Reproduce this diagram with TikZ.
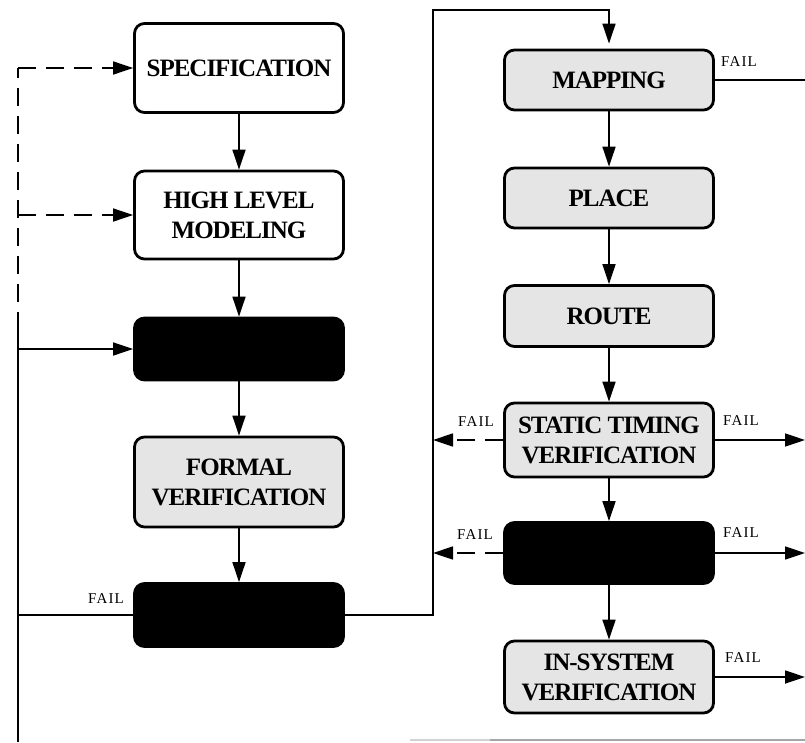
\documentclass[tikz,border=0pt]{standalone}
\usepackage{fontspec}
\setmainfont{Liberation Serif}
\newfontfamily\failfont[LetterSpace=8]{Liberation Serif}
\newfontfamily\stagefont[LetterSpace=-4]{Liberation Serif}
\usetikzlibrary{arrows.meta}

\tikzset{
  x=1pt, y=-1pt,
  stage/.style={draw=black, line width=2.8pt, rounded corners=10pt,
    minimum width=209pt, inner sep=2pt, align=center,
    font=\stagefont\bfseries\fontsize{25}{30}\selectfont},
  plainstage/.style={stage, fill=white},
  toolstage/.style={stage, fill=gray!20},
  hiddenstage/.style={stage, fill=black},
  flow/.style={line width=1.7pt, draw=black},
  flowarrow/.style={flow, -{Triangle[length=20pt, width=13pt]}},
  retry/.style={flow, dash pattern=on 18pt off 10pt},
  retryarrow/.style={retry, -{Triangle[length=20pt, width=13pt]}},
  faillabel/.style={inner sep=0pt, font=\failfont\fontsize{15}{15}\selectfont},
}

\begin{document}
\begin{tikzpicture}
\useasboundingbox (0,0) rectangle (805,742);

% design-entry column
\node[plainstage, minimum height=89pt] (spec) at (239,68) {SPECIFICATION};
\node[plainstage, minimum height=88pt] (hlm) at (239,215) {HIGH LEVEL\\MODELING};
\node[hiddenstage, minimum height=62pt] (blkA) at (239,349) {};
\node[toolstage, minimum height=90pt] (formal) at (239,482) {FORMAL\\VERIFICATION};
\node[hiddenstage, minimum height=63pt] (blkB) at (239,615) {};

% implementation column
\node[toolstage, minimum height=60pt] (mapping) at (609,80) {MAPPING};
\node[toolstage, minimum height=60pt] (place) at (609,198) {PLACE};
\node[toolstage, minimum height=61pt] (route) at (609,316) {ROUTE};
\node[toolstage, minimum height=74pt] (sta) at (609,440) {STATIC TIMING\\VERIFICATION};
\node[hiddenstage, minimum height=61pt] (blkC) at (609,553) {};
\node[toolstage, minimum height=72pt] (insys) at (609,677) {IN-SYSTEM\\VERIFICATION};

% main flow
\draw[flowarrow] (spec) -- (hlm);
\draw[flowarrow] (hlm) -- (blkA);
\draw[flowarrow] (blkA) -- (formal);
\draw[flowarrow] (formal) -- (blkB);
\draw[flowarrow] (mapping) -- (place);
\draw[flowarrow] (place) -- (route);
\draw[flowarrow] (route) -- (sta);
\draw[flowarrow] (sta) -- (blkC);
\draw[flowarrow] (blkC) -- (insys);

% bus lines on the left
\coordinate (lbot) at (18,742);
\coordinate (lsolid) at (18,330);
\coordinate (ltop) at (18,68);
\draw[flow] (blkB.west) -- (lbot |- blkB.west);
\draw[flow] (lbot) -- (lsolid);
\draw[flowarrow] (lbot |- blkA.west) -- (blkA.west);
\draw[retry] (lsolid) -- (ltop);
\draw[retryarrow] (ltop) -- (spec.west);
\draw[retryarrow] (lsolid |- hlm.west) -- (hlm.west);

% pass path into the implementation column
\coordinate (rbot) at (433,615);
\coordinate (rtop) at (433,10);
\draw[flowarrow, shorten >=5pt] (blkB.east) -- (rbot) -- (rtop) -| (mapping.north);

% failure returns
\draw[retryarrow] (sta.west) -- (rtop |- sta.west);
\draw[retryarrow] (blkC.west) -- (rtop |- blkC.west);
\coordinate (redge) at (805,0);
\draw[flow] (mapping.east) -- (redge |- mapping.east);
\draw[flowarrow] (sta.east) -- (redge |- sta.east);
\draw[flowarrow] (blkC.east) -- (redge |- blkC.east);
\draw[flowarrow] (insys.east) -- (redge |- insys.east);

% FAIL labels
\node[faillabel] (failB) at (106,599) {FAIL};
\node[faillabel] (failMap) at (739,62) {FAIL};
\node[faillabel] (failStaL) at (476,422) {FAIL};
\node[faillabel] (failStaR) at (741,421) {FAIL};
\node[faillabel] (failCL) at (475,535) {FAIL};
\node[faillabel] (failCR) at (741,533) {FAIL};
\node[faillabel] (failIns) at (743,658) {FAIL};

% rule along the lower edge
\draw[gray!35, line width=1.2pt] (410,740) -- (490,740);
\draw[gray!70, line width=1.5pt] (490,740) -- (805,740);
\end{tikzpicture}
\end{document}
